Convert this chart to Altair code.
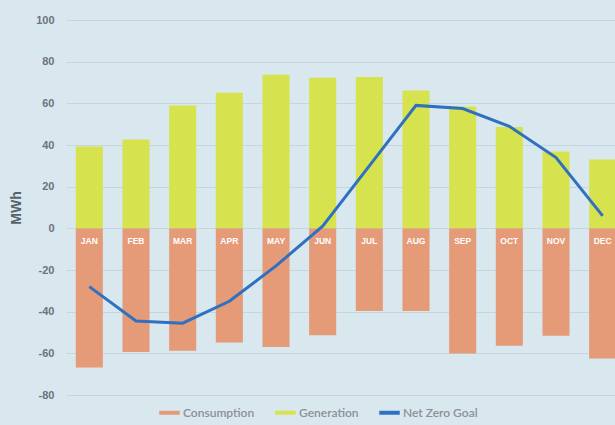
import altair as alt
import pandas as pd

months = ["JAN", "FEB", "MAR", "APR", "MAY", "JUN", "JUL", "AUG", "SEP", "OCT", "NOV", "DEC"]
generation = [39.3, 42.7, 59.0, 65.1, 73.7, 72.3, 72.6, 66.2, 58.5, 48.6, 36.9, 33.1]
consumption = [-66.8, -59.3, -58.8, -54.8, -56.9, -51.3, -39.7, -39.7, -60.1, -56.4, -51.6, -62.5]
net_zero = [-28, -44.5, -45.5, -35, -18, 1, 30, 59, 57.5, 49, 34, 6]
y_ticks = [-80, -60, -40, -20, 0, 20, 40, 60, 80, 100]
series_names = ["Consumption", "Generation", "Net Zero Goal"]
series_colors = ["#e59a78", "#d6e34e", "#2f70c0"]

bars_df = pd.DataFrame({
    "month": months * 2,
    "value": consumption + generation,
    "series": ["Consumption"] * 12 + ["Generation"] * 12,
})
line_df = pd.DataFrame({"month": months, "value": net_zero, "series": ["Net Zero Goal"] * 12})
label_df = pd.DataFrame({"month": months, "value": [0] * 12})

BG = "#d9e7ee"

x_enc = alt.X("month:N", sort=months, axis=None,
              scale=alt.Scale(range=[0, 560], paddingInner=0.42, paddingOuter=0.21))
y_enc = alt.Y("value:Q",
              scale=alt.Scale(domain=[-80, 100], nice=False, zero=False),
              axis=alt.Axis(values=y_ticks, title="MWh", domain=False, ticks=False,
                            labelExpr="'' + datum.value",
                            labelPadding=12, labelFontSize=11, labelFontWeight="bold",
                            labelColor="#6d737a", labelFont="Liberation Sans",
                            titleFontSize=14, titleFontWeight="bold", titleColor="#596169",
                            titleFont="Liberation Sans", titlePadding=12,
                            grid=True, gridColor="#c6d6df", gridWidth=1))
color_enc = alt.Color("series:N",
                      scale=alt.Scale(domain=series_names, range=series_colors),
                      legend=alt.Legend(orient="none", legendX=91, legendY=380,
                                        direction="horizontal", title=None,
                                        symbolType="stroke", symbolStrokeWidth=4,
                                        symbolSize=420, labelFontSize=12,
                                        labelFontWeight=600,
                                        labelColor="#8b9096", labelFont="Lato",
                                        columnPadding=12, labelOffset=1))

bars = alt.Chart(bars_df).mark_bar().encode(x=x_enc, y=y_enc, color=color_enc)
line = alt.Chart(line_df).mark_line(strokeWidth=3).encode(x=x_enc, y=y_enc, color=color_enc)
labels = alt.Chart(label_df).mark_text(
    color="white", fontSize=8.5, fontWeight="bold", font="Liberation Sans",
    baseline="middle", dy=13
).encode(x=x_enc, y=y_enc, text="month:N")

chart = alt.layer(bars, labels, line).properties(
    width=549, height=375,
    autosize=alt.AutoSizeParams(type="none"),
    padding={"left": 66, "top": 20, "right": 0, "bottom": 30},
    background=BG,
).configure_view(stroke=None, fill=BG)

chart.save("out.html", embed_options={"renderer": "svg", "actions": False})
